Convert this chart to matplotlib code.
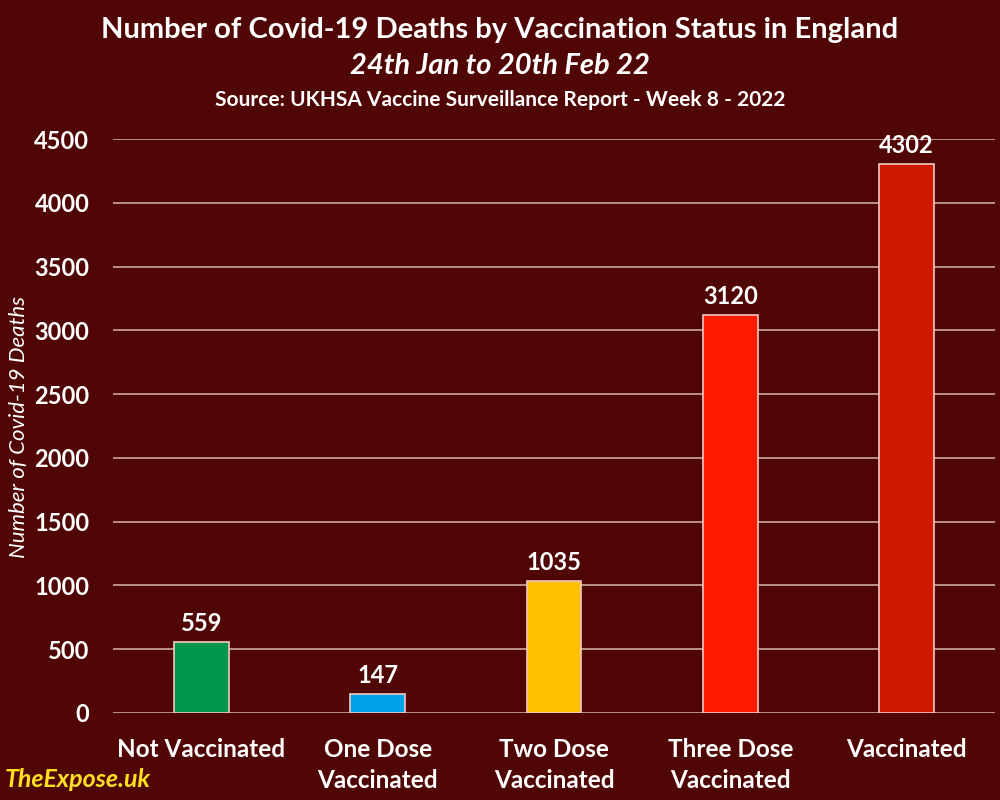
import matplotlib.pyplot as plt
import numpy as np

categories = ["Not Vaccinated", "One Dose\nVaccinated", "Two Dose\nVaccinated",
              "Three Dose\nVaccinated", "Vaccinated"]
deaths = [559, 147, 1035, 3120, 4302]
bar_colors = ["#00964B", "#00A2E8", "#FFC000", "#FF1A00", "#D01A00"]
yticks = [0, 500, 1000, 1500, 2000, 2500, 3000, 3500, 4000, 4500]

bg = "#510606"
plt.rcParams['font.family'] = ['Lato', 'DejaVu Sans']

fig = plt.figure(figsize=(10, 8), dpi=100, facecolor=bg)
ax = fig.add_axes([0.113, 0.109, 0.882, 0.717])
ax.set_facecolor(bg)

x = np.arange(len(categories))
bars = ax.bar(x, deaths, width=0.31, color=bar_colors, edgecolor="#F2C8C0",
              linewidth=1.2, zorder=3)

for xi, v in zip(x, deaths):
    ax.text(xi, v + 55, str(v), ha="center", va="bottom", color="white",
            fontsize=17, fontweight="bold", zorder=4)

ax.set_xlim(-0.5, len(categories) - 0.5)
ax.set_ylim(0, 4500)
ax.set_yticks(yticks)
ax.set_yticklabels([str(t) for t in yticks])
ax.yaxis.grid(True, color="#D8B4B0", linewidth=1.1, zorder=0)
ax.set_axisbelow(True)
for s in ax.spines.values():
    s.set_visible(False)
ax.tick_params(axis="both", length=0, colors="white")
ax.tick_params(axis="y", pad=17, labelsize=17)
ax.tick_params(axis="x", pad=18)
for lab in ax.get_yticklabels():
    lab.set_fontweight("bold")
ax.set_xticks(x)
ax.set_xticklabels(categories, fontweight="bold", color="white", fontsize=17.5,
                   linespacing=1.45)

fig.text(0.019, 0.466, "Number of Covid-19 Deaths", rotation=90, color="white",
         style="italic", fontsize=16, ha="center", va="center")

fig.text(0.5, 0.962, "Number of Covid-19 Deaths by Vaccination Status in England",
         ha="center", va="center", color="white", fontsize=21, fontweight="bold")
fig.text(0.5, 0.917, "24th Jan to 20th Feb 22", ha="center", va="center",
         color="white", fontsize=21, fontweight="bold", style="italic")
fig.text(0.5, 0.875, "Source: UKHSA Vaccine Surveillance Report - Week 8 - 2022",
         ha="center", va="center", color="white", fontsize=15, fontweight="bold")

fig.text(0.005, 0.026, "TheExpose.uk", ha="left", va="center", color="#FFE020",
         fontsize=18, fontweight="bold", style="italic")

fig.savefig("out.png", dpi=100, facecolor=bg)
